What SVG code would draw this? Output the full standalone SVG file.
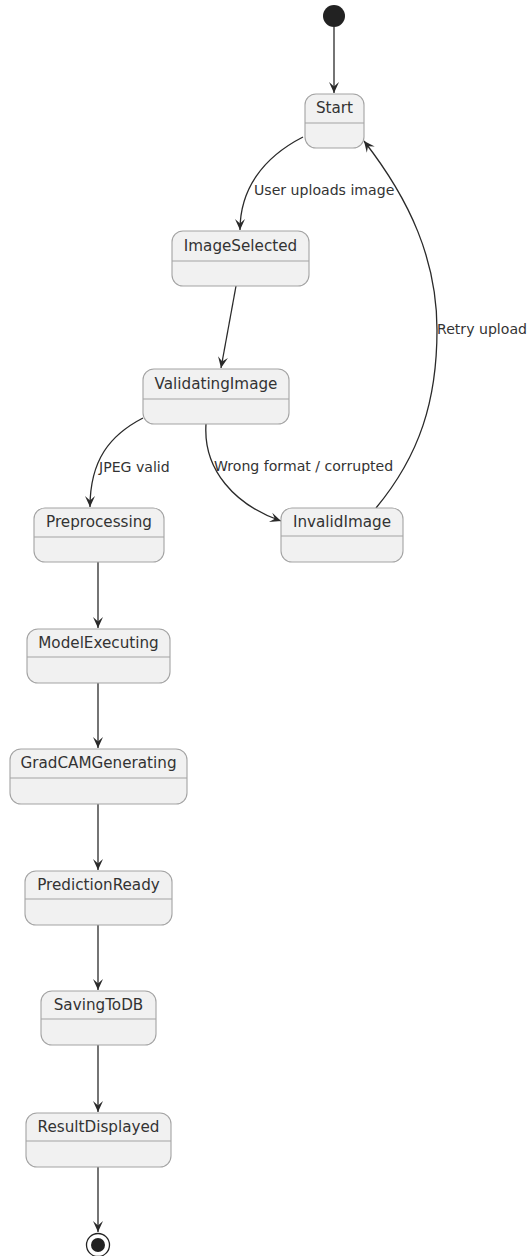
<svg xmlns="http://www.w3.org/2000/svg" width="529" height="1256" viewBox="0 0 529 1256">
  <defs>
    <style>
      .state rect { fill: #f1f1f1; stroke: #a3a3a3; stroke-width: 1.1; }
      .state line { stroke: #a3a3a3; stroke-width: 1.1; }
      .state text { font-family: "DejaVu Sans", sans-serif; font-size: 15.2px; fill: #333; text-anchor: middle; }
      .edge { fill: none; stroke: #2a2a2a; stroke-width: 1.3; marker-end: url(#arrow); }
      .lbl { font-family: "DejaVu Sans", sans-serif; font-size: 14.1px; fill: #333; }
    </style>
    <marker id="arrow" viewBox="-12 -6 13 12" refX="0" refY="0" markerWidth="13" markerHeight="12" markerUnits="userSpaceOnUse" orient="auto">
      <path d="M0,0 L-11,-5 L-6.5,0 L-11,5 Z" fill="#2a2a2a"/>
    </marker>
  </defs>
  <rect width="529" height="1256" fill="#ffffff"/>

  <!-- transitions -->
  <g id="connectors">
    <path class="edge" d="M334,27 L334,93"/>
    <path class="edge" d="M303,137 C262,158 240,190 240,230"/>
    <path class="edge" d="M236,286 L221,368"/>
    <path class="edge" d="M143,418 C110,435 90,460 90,507"/>
    <path class="edge" d="M206,424 C203,470 235,505 281,521"/>
    <path class="edge" d="M376,508 C420,455 437,400 437,330 C437,260 410,200 364,141"/>
    <path class="edge" d="M98,562 L98,628"/>
    <path class="edge" d="M98,683 L98,748"/>
    <path class="edge" d="M98,804 L98,870"/>
    <path class="edge" d="M98,925 L98,990"/>
    <path class="edge" d="M98,1045 L98,1112"/>
    <path class="edge" d="M98,1167 L98,1232"/>
    <text class="lbl" x="254" y="195">User uploads image</text>
    <text class="lbl" x="99" y="472">JPEG valid</text>
    <text class="lbl" x="214" y="471">Wrong format / corrupted</text>
    <text class="lbl" x="437" y="334">Retry upload</text>
  </g>

  <!-- initial pseudo-state -->
  <g id="initial">
    <circle cx="334" cy="16" r="11" fill="#222"/>
  </g>

  <g id="Start" class="state">
    <rect x="305" y="94" width="59" height="54" rx="11"/>
    <line x1="305" y1="123" x2="364" y2="123"/>
    <text x="334.5" y="113">Start</text>
  </g>

  <g id="ImageSelected" class="state">
    <rect x="172" y="231" width="137" height="55" rx="11"/>
    <line x1="172" y1="261" x2="309" y2="261"/>
    <text x="240.5" y="251">ImageSelected</text>
  </g>

  <g id="ValidatingImage" class="state">
    <rect x="143" y="369" width="146" height="55" rx="11"/>
    <line x1="143" y1="399" x2="289" y2="399"/>
    <text x="216" y="389">ValidatingImage</text>
  </g>

  <g id="Preprocessing" class="state">
    <rect x="34" y="508" width="130" height="54" rx="11"/>
    <line x1="34" y1="537" x2="164" y2="537"/>
    <text x="99" y="527">Preprocessing</text>
  </g>

  <g id="InvalidImage" class="state">
    <rect x="281" y="508" width="122" height="54" rx="11"/>
    <line x1="281" y1="536" x2="403" y2="536"/>
    <text x="342" y="527">InvalidImage</text>
  </g>

  <g id="ModelExecuting" class="state">
    <rect x="27" y="629" width="143" height="54" rx="11"/>
    <line x1="27" y1="657" x2="170" y2="657"/>
    <text x="98.5" y="648">ModelExecuting</text>
  </g>

  <g id="GradCAMGenerating" class="state">
    <rect x="10" y="749" width="177" height="55" rx="11"/>
    <line x1="10" y1="778" x2="187" y2="778"/>
    <text x="98.5" y="768">GradCAMGenerating</text>
  </g>

  <g id="PredictionReady" class="state">
    <rect x="25" y="871" width="147" height="54" rx="11"/>
    <line x1="25" y1="899" x2="172" y2="899"/>
    <text x="98.5" y="890">PredictionReady</text>
  </g>

  <g id="SavingToDB" class="state">
    <rect x="41" y="991" width="115" height="54" rx="11"/>
    <line x1="41" y1="1019" x2="156" y2="1019"/>
    <text x="98.5" y="1010">SavingToDB</text>
  </g>

  <g id="ResultDisplayed" class="state">
    <rect x="26" y="1113" width="145" height="54" rx="11"/>
    <line x1="26" y1="1141" x2="171" y2="1141"/>
    <text x="98.5" y="1132">ResultDisplayed</text>
  </g>

  <!-- final pseudo-state -->
  <g id="final">
    <circle cx="98" cy="1245" r="11.5" fill="none" stroke="#222" stroke-width="1.3"/>
    <circle cx="98" cy="1245" r="7" fill="#222"/>
  </g>
</svg>
